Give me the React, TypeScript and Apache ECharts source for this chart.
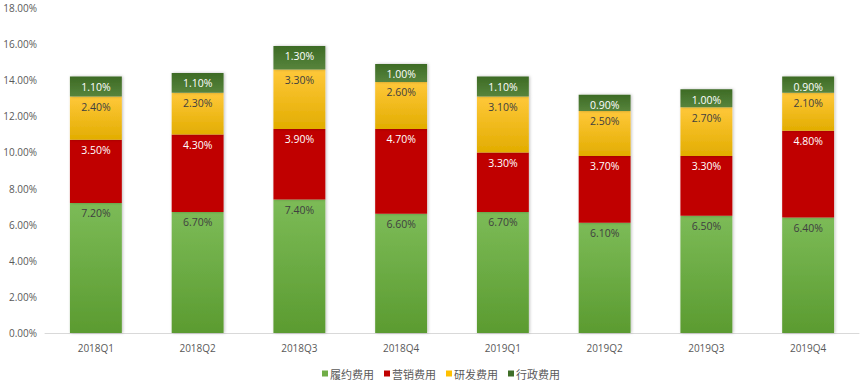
import React, { useEffect, useRef } from "react";
import * as echarts from "echarts";

const categories = ["2018Q1", "2018Q2", "2018Q3", "2018Q4", "2019Q1", "2019Q2", "2019Q3", "2019Q4"];
const fulfillment = [7.2, 6.7, 7.4, 6.6, 6.7, 6.1, 6.5, 6.4];
const marketing = [3.5, 4.3, 3.9, 4.7, 3.3, 3.7, 3.3, 4.8];
const rnd = [2.4, 2.3, 3.3, 2.6, 3.1, 2.5, 2.7, 2.1];
const admin = [1.1, 1.1, 1.3, 1.0, 1.1, 0.9, 1.0, 0.9];
const seriesNames = ["履约费用", "营销费用", "研发费用", "行政费用"];
const yTicks = [0, 2, 4, 6, 8, 10, 12, 14, 16, 18];

const grad = (top: string, bottom: string) =>
  new echarts.graphic.LinearGradient(0, 0, 0, 1, [
    { offset: 0, color: top },
    { offset: 1, color: bottom },
  ]);

export default function App() {
  const ref = useRef<HTMLDivElement>(null);
  useEffect(() => {
    document.body.style.margin = "0";
    if (!ref.current) return;
    const chart = echarts.init(ref.current, undefined, { renderer: "svg" });
    const font = "'Open Sans', 'Noto Sans CJK SC', sans-serif";
    const mk = (name: string, data: number[], color: any, labelColor: string) => ({
      name,
      type: "bar",
      stack: "total",
      barWidth: "51%",
      data,
      itemStyle: {
        color,
        shadowColor: "rgba(0,0,0,0.25)",
        shadowBlur: 3,
        shadowOffsetX: 1,
        shadowOffsetY: 0,
      },
      label: {
        show: true,
        position: "insideTop",
        distance: 5,
        color: labelColor,
        fontSize: 10.5,
        fontFamily: font,
        formatter: (p: any) => Number(p.value).toFixed(2) + "%",
      },
      emphasis: { disabled: true },
    });
    chart.setOption({
      animation: false,
      textStyle: { fontFamily: font },
      grid: { left: 45, right: 5, top: 8, bottom: 48, containLabel: false },
      legend: {
        top: 363,
        left: 317,
        itemWidth: 6,
        itemHeight: 6,
        itemGap: 10,
        icon: "rect",
        textStyle: { color: "#595959", fontSize: 11, fontFamily: "'Noto Sans CJK SC', sans-serif", padding: [0, 0, 0, -3] },
        data: [
          { name: seriesNames[0], itemStyle: { color: "#70ad47" } },
          { name: seriesNames[1], itemStyle: { color: "#c00000" } },
          { name: seriesNames[2], itemStyle: { color: "#ffc000" } },
          { name: seriesNames[3], itemStyle: { color: "#3f6e28" } },
        ],
      },
      xAxis: {
        type: "category",
        data: categories,
        axisLine: { lineStyle: { color: "#d9d9d9" } },
        axisTick: { show: false },
        axisLabel: { color: "#595959", fontSize: 10, margin: 10 },
      },
      yAxis: {
        type: "value",
        min: yTicks[0],
        max: yTicks[yTicks.length - 1],
        interval: 2,
        splitLine: { show: false },
        axisLine: { show: false },
        axisTick: { show: false },
        axisLabel: { color: "#595959", fontSize: 10, margin: 8, formatter: (v: number) => v.toFixed(2) + "%" },
      },
      series: [
        mk(seriesNames[0], fulfillment, grad("#7cbb57", "#5b9b30"), "#404040"),
        mk(seriesNames[1], marketing, "#c00000", "#ffffff"),
        mk(seriesNames[2], rnd, grad("#ffc83a", "#e2ad00"), "#404040"),
        mk(seriesNames[3], admin, grad("#3d6b25", "#57843c"), "#ffffff"),
      ],
    });
    return () => chart.dispose();
  }, []);
  return <div ref={ref} style={{ width: 864, height: 381 }} />;
}
